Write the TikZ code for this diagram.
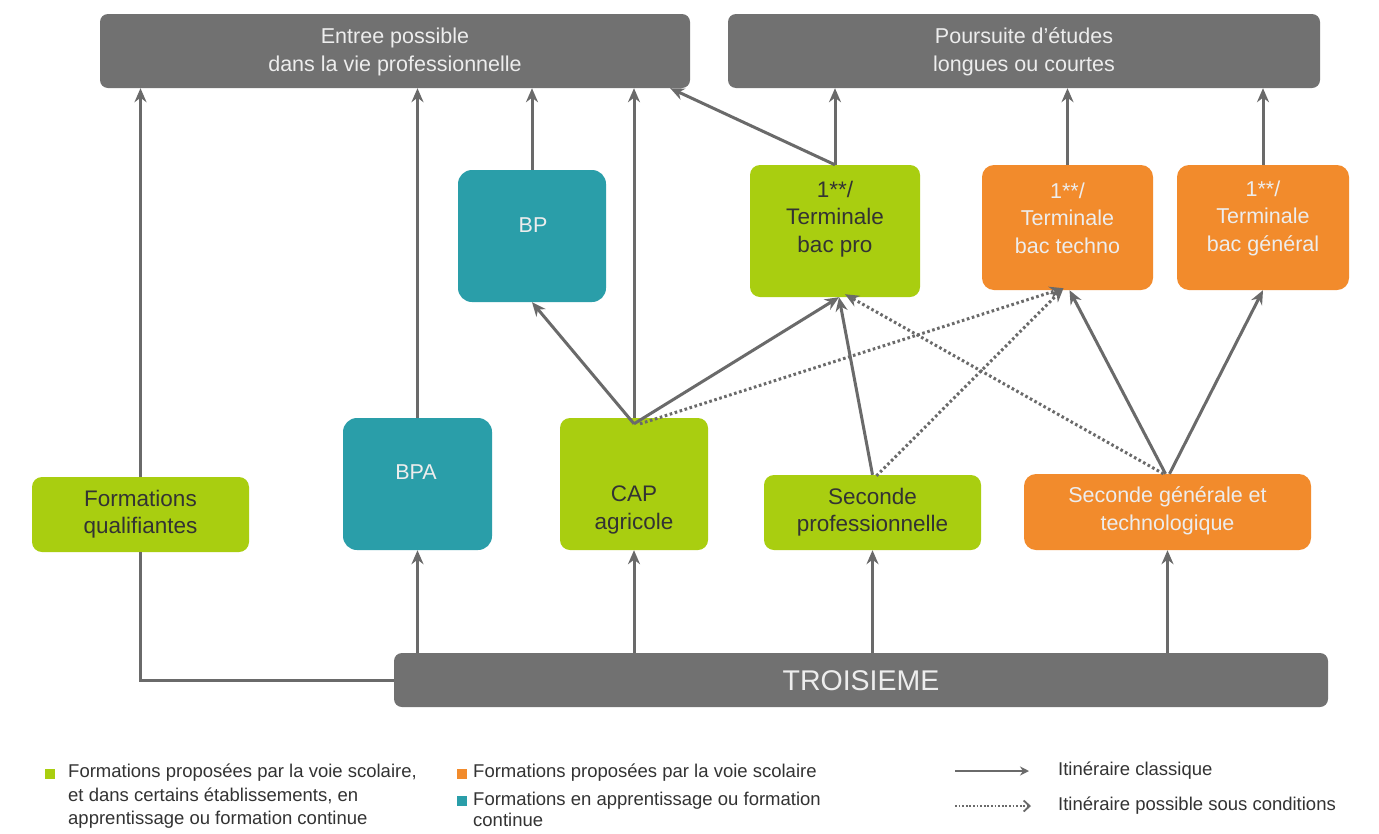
\documentclass[tikz,border=0pt]{standalone}
\usepackage{fontspec}
\setmainfont{Liberation Sans}
\usetikzlibrary{arrows.meta}
\definecolor{boxgray}{HTML}{717171}
\definecolor{bgreen}{HTML}{A9CE10}
\definecolor{bteal}{HTML}{2A9EA9}
\definecolor{borange}{HTML}{F28B2C}
\definecolor{lgray}{HTML}{6A6A6A}
\definecolor{dtext}{HTML}{333333}
\definecolor{ltext}{HTML}{EDEDED}
\begin{document}
\begin{tikzpicture}[x=1pt,y=-1pt,
  box/.style={inner sep=0pt, draw=none},
  graybox/.style={box, fill=boxgray, rounded corners=8pt},
  greenbox/.style={box, fill=bgreen, rounded corners=10pt},
  tealbox/.style={box, fill=bteal, rounded corners=14pt},
  orangebox/.style={box, fill=borange, rounded corners=12pt},
  wtxt/.style={text=ltext, align=center, font=\fontsize{21.5}{27.5}\selectfont, inner sep=0pt},
  dtxt/.style={text=dtext, align=center, font=\fontsize{22.5}{27.5}\selectfont, inner sep=0pt},
  arr/.style={draw=lgray, line width=3pt, -{Stealth[length=14pt,width=12pt]}},
  plainline/.style={draw=lgray, line width=3pt},
  dotarr/.style={arr, dash pattern=on 2.6pt off 2.6pt},
  legtxt/.style={anchor=west, text=dtext, inner sep=0pt, text height=0.7em, text depth=0.2em, font=\fontsize{18.5}{20}\selectfont},
  legsq/.style={inner sep=0pt, minimum size=10pt}
]
\useasboundingbox (0,0) rectangle (1379,833);
\fill[white] (0,0) rectangle (1379,833);

% top boxes
\node[graybox, minimum width=590, minimum height=74] (entree) at (395,51) {};
\node[wtxt] (entreeT) at (395,52) {Entree possible\\dans la vie professionnelle};
\node[graybox, minimum width=592, minimum height=74] (pours) at (1024,51) {};
\node[wtxt] (poursT) at (1024,52) {Poursuite d'études\\longues ou courtes};

% middle row
\node[tealbox, minimum width=148, minimum height=132] (bp) at (532,236) {};
\node[wtxt] (bpT) at (533,225) {BP};
\node[greenbox, minimum width=170, minimum height=132] (bacpro) at (835,231) {};
\node[dtxt] (bacproT) at (835,219) {1**/\\Terminale\\bac pro};
\node[orangebox, minimum width=171, minimum height=125] (techno) at (1067.5,227.5) {};
\node[wtxt] (technoT) at (1067.5,218) {1**/\\Terminale\\bac techno};
\node[orangebox, minimum width=172, minimum height=125] (gen) at (1263,227.5) {};
\node[wtxt] (genT) at (1263,218) {1**/\\Terminale\\bac général};

% lower row
\node[greenbox, minimum width=217, minimum height=75] (fq) at (140.5,514.5) {};
\node[dtxt] (fqT) at (140.5,514) {Formations\\qualifiantes};
\node[tealbox, minimum width=149, minimum height=132] (bpa) at (417.5,484) {};
\node[wtxt] (bpaT) at (416,472) {BPA};
\node[greenbox, minimum width=148, minimum height=132] (cap) at (634,484) {};
\node[dtxt] (capT) at (634,510) {CAP\\agricole};
\node[greenbox, minimum width=217, minimum height=75] (spro) at (872.5,512.5) {};
\node[dtxt] (sproT) at (872.5,512) {Seconde\\professionnelle};
\node[orangebox, minimum width=287, minimum height=76] (sgt) at (1167.5,512) {};
\node[wtxt] (sgtT) at (1167.5,511) {Seconde générale et\\technologique};

% bottom
\node[graybox, minimum width=934, minimum height=54] (trois) at (861,680) {};
\node[text=ltext, inner sep=0pt, font=\fontsize{28.5}{32}\selectfont] (troisT) at (861,681) {TROISIEME};

% connectors from TROISIEME
\draw[plainline] (trois.west) -| (fq.south);
\draw[arr] (bpa.south |- trois.north) -- (bpa.south);
\draw[arr] (cap.south |- trois.north) -- (cap.south);
\draw[arr] (spro.south |- trois.north) -- (spro.south);
\draw[arr] (sgt.south |- trois.north) -- (sgt.south);

% to Entree
\draw[arr] (fq.north) -- (fq.north |- entree.south);
\draw[arr] (bpa.north) -- (bpa.north |- entree.south);
\draw[arr] (bp.north) -- (bp.north |- entree.south);
\draw[arr] (cap.north) -- (cap.north |- entree.south);
\draw[arr] (bacpro.north) -- ([xshift=-20pt]entree.south east);

% to Poursuite
\draw[arr] (bacpro.north) -- (bacpro.north |- pours.south);
\draw[arr] (techno.north) -- (techno.north |- pours.south);
\draw[arr] (gen.north) -- (gen.north |- pours.south);

% from CAP
\draw[arr] ([yshift=-6pt]cap.north) -- (bp.south);
\draw[arr] ([yshift=-6pt]cap.north) -- ([xshift=4pt]bacpro.south);
\draw[dotarr] ([xshift=6pt,yshift=-6pt]cap.north) -- ([xshift=-4pt,yshift=2pt]techno.south);

% from Seconde pro
\draw[arr] (spro.north) -- ([xshift=4pt]bacpro.south);
\draw[dotarr] ([xshift=4pt,yshift=-1pt]spro.north) -- ([xshift=-4pt,yshift=2pt]techno.south);

% from Seconde GT
\draw[arr] ([xshift=-2pt]sgt.north) -- ([xshift=2pt]techno.south);
\draw[arr] ([xshift=2pt]sgt.north) -- (gen.south);
\draw[dotarr] ([xshift=-4pt]sgt.north) -- ([xshift=10pt,yshift=3pt]bacpro.south);

% legend
\node[legsq, fill=bgreen] (lsq1) at (50,774) {};
\node[legtxt] (l1a) at (68,775) {Formations proposées par la voie scolaire,};
\node[legtxt] (l1b) at (68,799) {et dans certains établissements, en};
\node[legtxt] (l1c) at (68,822) {apprentissage ou formation continue};
\node[legsq, fill=borange] (lsq2) at (462,774) {};
\node[legtxt] (l2a) at (473,775) {Formations proposées par la voie scolaire};
\node[legsq, fill=bteal] (lsq3) at (462,801) {};
\node[legtxt] (l3a) at (473,803) {Formations en apprentissage ou formation};
\node[legtxt] (l3b) at (473,824) {continue};

\coordinate (la1) at (955,771);
\coordinate (la2) at (1029,771);
\coordinate (lb1) at (955,806);
\coordinate (lb2) at (1031,806);
\draw[draw=lgray, line width=2.6pt, -{Stealth[length=9pt,width=9pt]}] (la1) -- (la2);
\draw[draw=lgray, line width=1.8pt, dash pattern=on 1.8pt off 1.8pt, -{Straight Barb[length=6pt,width=11pt,line width=1.8pt]}] (lb1) -- (lb2);
\node[legtxt] (l4) at (1058,773) {Itinéraire classique};
\node[legtxt] (l5) at (1058,808) {Itinéraire possible sous conditions};
\end{tikzpicture}
\end{document}
